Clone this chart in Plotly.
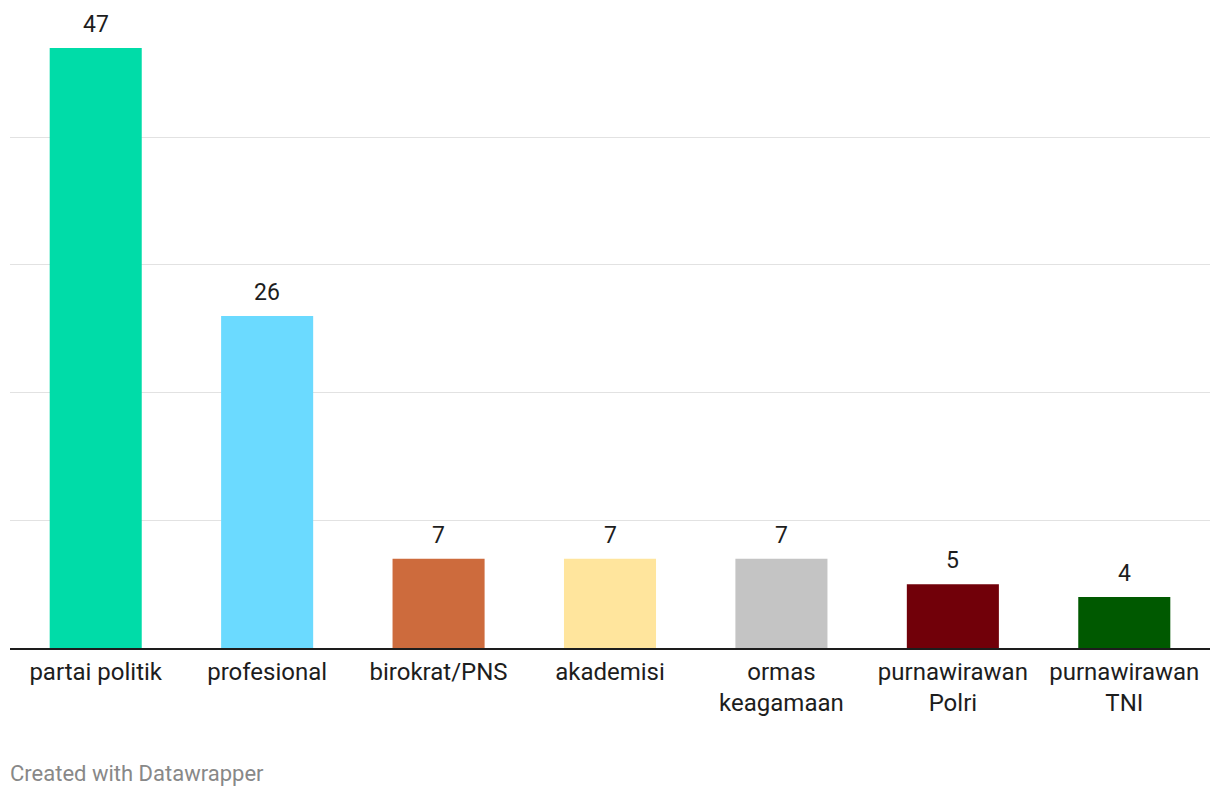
import plotly.graph_objects as go

categories = ["partai politik", "profesional", "birokrat/PNS", "akademisi",
              "ormas<br>keagamaan", "purnawirawan<br>Polri", "purnawirawan<br>TNI"]
values = [47, 26, 7, 7, 7, 5, 4]
colors = ["#00dca8", "#6bdaff", "#cd6b3d", "#ffe59d", "#c4c4c4", "#710009", "#005900"]

fig = go.Figure()
fig.add_trace(go.Bar(x=categories, y=values, marker=dict(color=colors, line=dict(width=0)),
                     hoverinfo="skip"))

for c, v in zip(categories, values):
    fig.add_annotation(x=c, y=v, text=str(v), showarrow=False, yanchor="bottom",
                       yshift=8, font=dict(family="Roboto", size=23, color="#1d1d1d"))

fig.add_annotation(x=0, y=-0.198, xref="paper", yref="paper", xanchor="left", yanchor="middle",
                   xshift=-2, text="Created with Datawrapper", showarrow=False,
                   font=dict(family="Roboto", size=22, color="#888888"))

fig.update_layout(
    width=1204, height=780,
    margin=dict(l=2, r=2, t=8, b=140),
    paper_bgcolor="white", plot_bgcolor="white",
    showlegend=False, bargap=0.463,
    font=dict(family="Roboto", size=24, color="#1d1d1d"),
    xaxis=dict(showgrid=False, showline=True, linecolor="#1d1d1d", linewidth=2,
               ticks="", ticklabelstandoff=1,
               tickfont=dict(family="Roboto", size=24, color="#1d1d1d"),
               fixedrange=True),
    yaxis=dict(range=[0, 49.5], dtick=10, showgrid=True, gridcolor="#e2e2e2", gridwidth=1,
               showticklabels=False, zeroline=False, fixedrange=True),
)

fig.write_html("out.html")
